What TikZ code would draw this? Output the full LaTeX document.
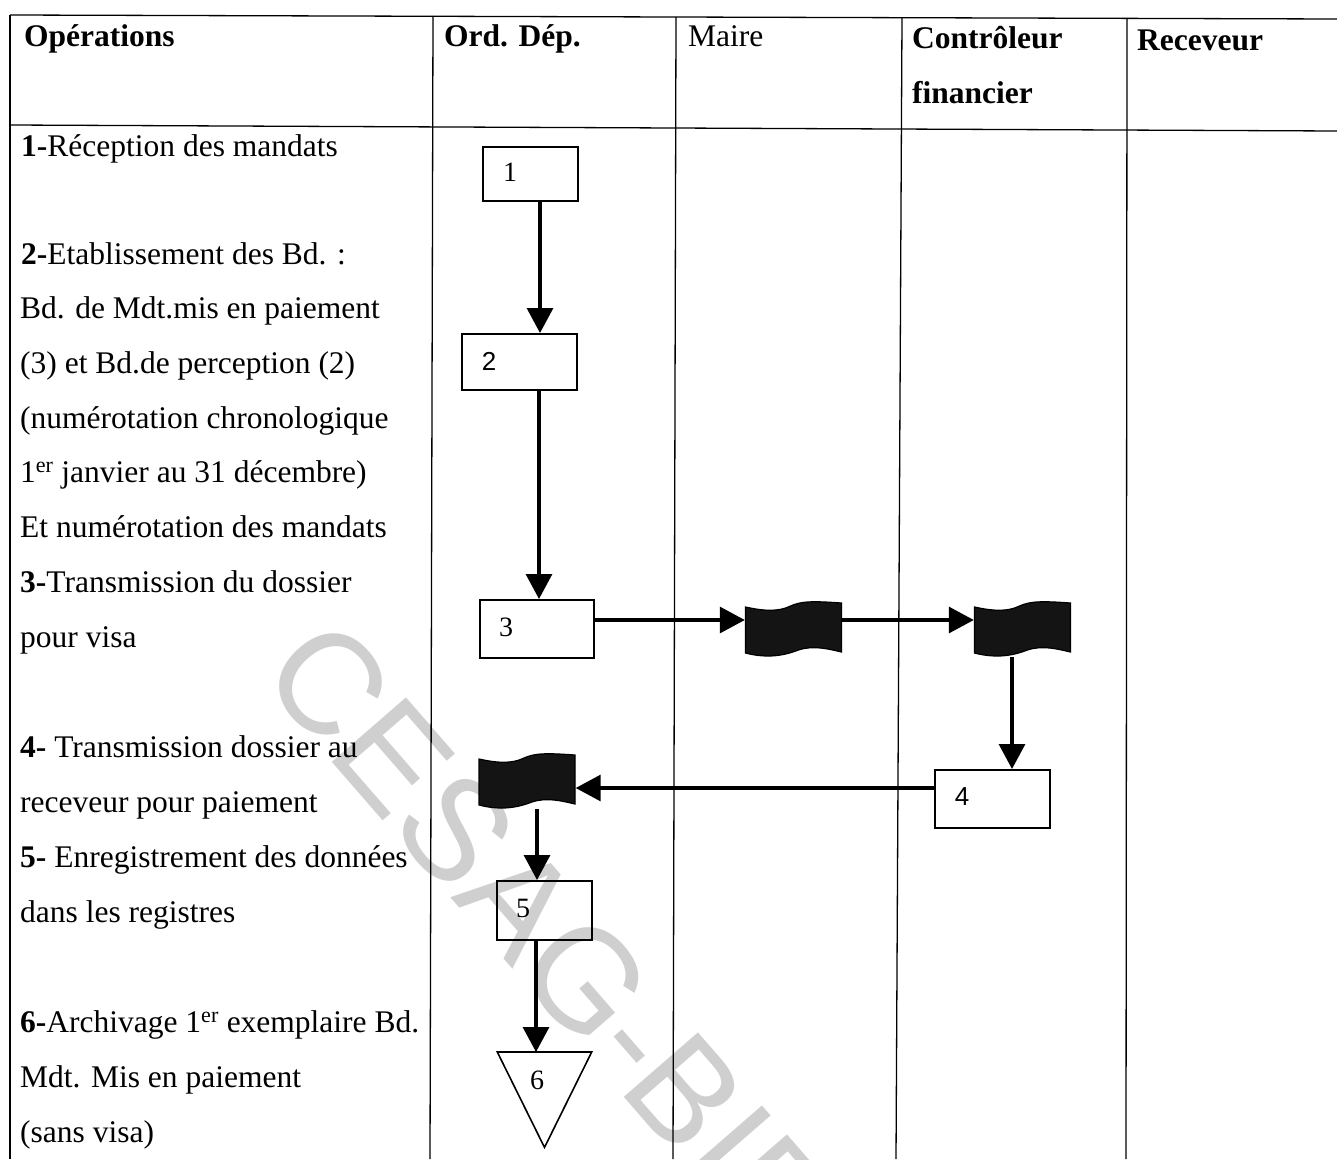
\documentclass[tikz,border=0pt]{standalone}
\usepackage{fontspec}
\setmainfont{Liberation Serif}
\newfontfamily\wmfont{Liberation Sans}
\newfontfamily\numsans{Liberation Sans}
\usetikzlibrary{arrows.meta,calc}
\begin{document}
\begin{tikzpicture}[x=1pt,y=-1pt,
  grid/.style={line width=1.3pt},
  hdr/.style={anchor=base west, inner sep=0pt, font=\fontsize{31.5}{38}\selectfont\bfseries},
  op/.style={anchor=base west, inner sep=0pt, font=\fontsize{31.5}{38}\selectfont},
  stepbox/.style={draw, line width=2pt, inner sep=0pt},
  flagnode/.style={inner sep=0pt, minimum width=97pt, minimum height=57pt},
  num/.style={inner sep=0pt, font=\fontsize{28}{28}\selectfont},
  flow/.style={line width=3.2pt, -{Triangle[length=25pt,width=26pt]}},
  flagshape/.pic={
    \fill[black!92, draw=black, line width=1.2pt]
      (-48,-21) .. controls (-30,-17) and (-15,-16) .. (-3,-22)
      .. controls (8,-27) and (20,-27) .. (48,-25)
      -- (48,24) .. controls (35,21) and (20,17) .. (5,22)
      .. controls (-8,27) and (-25,31) .. (-48,25) -- cycle;
  }]
\useasboundingbox (0,0) rectangle (1337,1159);
\fill[white] (0,0) rectangle (1337,1159);

% library stamp across the sheet
\begin{scope}
  \clip (0,0) rectangle (1337,1159);
  \node[anchor=base west, inner sep=0pt, rotate=-49, text=black!19,
        font=\wmfont\fontsize{143}{143}\selectfont] (wm) at (257,675) {CESAG-BIBLIOTHEQUE};
\end{scope}

% table rules
\draw[grid] (10,15) -- (1337,19);
\draw[grid] (10,125) -- (1337,131);
\draw[grid] (10,15) -- (10,1159);
\draw[grid] (433,16) -- (430,1159);
\draw[grid] (676,17) -- (673,1159);
\draw[grid] (902,18) -- (896,1159);
\draw[grid] (1127,18) -- (1126,1159);

% column headings
\node[hdr] (h1) at (24,46) {Opérations};
\node[hdr] (h2) at (444,46) {Ord. Dép.};
\node[op]  (h3) at (688,46) {Maire};
\node[hdr] (h4) at (912,48) {Contrôleur};
\node[hdr] (h4b) at (912,103) {financier};
\node[hdr] (h5) at (1137,50) {Receveur};

% operations column
\node[op] (o1) at (21,156) {\textbf{1-}Réception des mandats};
\node[op] (o2) at (21,264) {\textbf{2-}Etablissement des Bd. :};
\node[op] (o3) at (20,318) {Bd. de Mdt.mis en paiement};
\node[op] (o4) at (20,373) {(3) et Bd.de perception (2)};
\node[op] (o5) at (20,428) {(numérotation chronologique};
\node[op] (o6) at (20,482) {1\textsuperscript{er} janvier au 31 décembre)};
\node[op] (o7) at (20,537) {Et numérotation des mandats};
\node[op] (o8) at (20,592) {\textbf{3-}Transmission du dossier};
\node[op] (o9) at (20,647) {pour visa};
\node[op] (o10) at (20,757) {\textbf{4-} Transmission dossier au};
\node[op] (o11) at (20,812) {receveur pour paiement};
\node[op] (o12) at (20,867) {\textbf{5-} Enregistrement des données};
\node[op] (o13) at (20,922) {dans les registres};
\node[op] (o14) at (20,1032) {\textbf{6-}Archivage 1\textsuperscript{er} exemplaire Bd.};
\node[op] (o15) at (20,1087) {Mdt. Mis en paiement};
\node[op] (o16) at (20,1142) {(sans visa)};

% process boxes
\node[stepbox, minimum width=95pt, minimum height=54pt] (b1) at (530.5,174) {};
\node[stepbox, minimum width=115pt, minimum height=56pt] (b2) at (519.5,362) {};
\node[stepbox, minimum width=114pt, minimum height=58pt] (b3) at (537,629) {};
\node[stepbox, minimum width=115pt, minimum height=58pt] (b4) at (992.5,799) {};
\node[stepbox, minimum width=95pt, minimum height=59pt] (b5) at (544.5,910.5) {};

\node[num] (n1) at (510,172) {1};
\node[num, font=\numsans\fontsize{26}{26}\selectfont] (n2) at (489,361) {2};
\node[num] (n3) at (506,627) {3};
\node[num, font=\numsans\fontsize{26}{26}\selectfont] (n4) at (962,797) {4};
\node[num] (n5) at (523,908) {5};

% documents
\node[flagnode] (dm) at (793.5,628) {};
\node[flagnode] (dc) at (1022.5,628) {};
\node[flagnode] (do) at (527,780) {};
\pic at (dm.center) {flagshape};
\pic at (dc.center) {flagshape};
\pic at (do.center) {flagshape};

% archive
\node[inner sep=0pt, minimum width=94pt, minimum height=95pt, anchor=north] (tri) at (544.5,1052) {};
\draw[line width=1.6pt, line join=miter] (tri.north west) -- (tri.north east) -- (tri.south) -- cycle;
\node[num] (n6) at (537,1080) {6};

% flow
\draw[flow] ([xshift=9.5pt]b1.south) -- ([xshift=9.5pt]b1.south |- b2.north);
\draw[flow] ([xshift=19.5pt]b2.south) -- ([xshift=19.5pt]b2.south |- b3.north);
\draw[flow] ([yshift=9pt]b3.east) -- ([yshift=9pt]b3.east -| dm.west);
\draw[flow] ([yshift=9pt]b3.east -| dm.east) -- ([yshift=9pt]b3.east -| dc.west);
\draw[flow] ([xshift=-10.5pt]dc.south) -- ([xshift=-10.5pt]dc.south |- b4.north);
\draw[flow] ([yshift=11pt]b4.west) -- ([yshift=11pt]b4.west -| do.east);
\draw[flow] ([xshift=10pt]do.south) -- ([xshift=10pt]do.south |- b5.north);
\draw[flow] ([xshift=-8.5pt]b5.south) -- ([xshift=-8.5pt]b5.south |- tri.north);
\end{tikzpicture}
\end{document}
